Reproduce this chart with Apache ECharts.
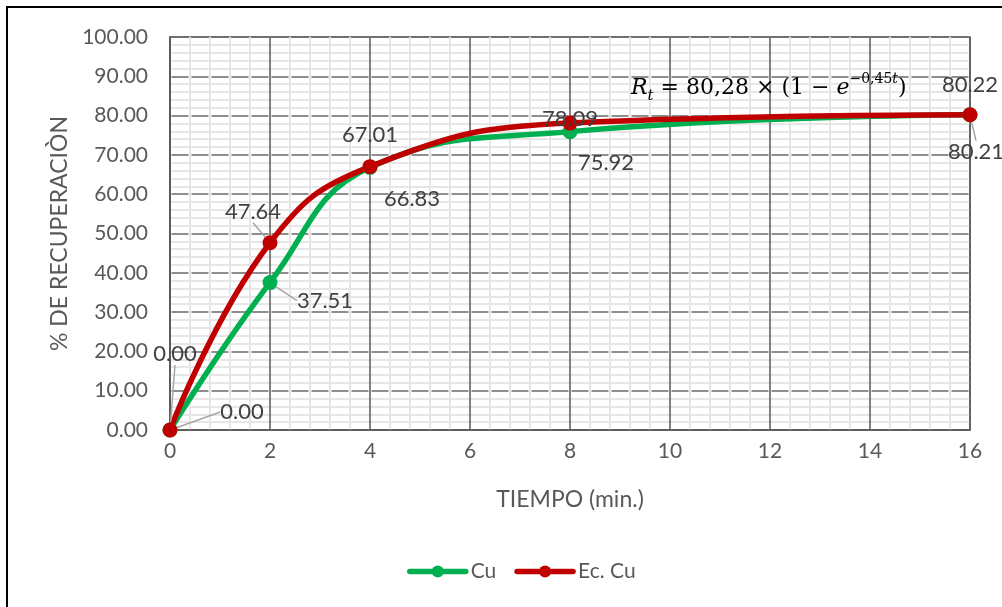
<!DOCTYPE html>
<html>
<head>
<meta charset="utf-8">
<script src="https://cdn.jsdelivr.net/npm/echarts@6/dist/echarts.min.js"></script>
<style>
  html, body { margin: 0; padding: 0; background: #fff; }
  #chart { width: 1002px; height: 607px; }
</style>
</head>
<body>
<div id="chart"></div>
<script>
// datos
var tiempo = [0, 2, 4, 8, 16];
var cu = [0.00, 37.51, 66.83, 75.92, 80.21];
var ecCu = [0.00, 47.64, 67.01, 78.09, 80.22];
var yTicks = [0, 10, 20, 30, 40, 50, 60, 70, 80, 90, 100];

// desplazamiento de etiquetas (dx, dy) respecto al punto
var offCu = [[72, -18], [55, 18], [42, 32], [36, 31], [6, 37]];
var offEc = [[5, -76], [-17, -31], [0, -32], [0, -4], [0, -30]];
var leaderCu = [true, true, false, false, true];
var leaderEc = [true, true, false, false, false];

var font = 'Lato, "Open Sans", sans-serif';
var txt = '#595959';

function pares(ys) {
    return tiempo.map(function (t, i) { return [t, ys[i]]; });
}

function serie(name, color, ys, off, leader) {
    return {
        name: name,
        type: 'line',
        smooth: 0.45,
        data: pares(ys).map(function (p, i) {
            return { value: p, labelLine: { show: leader[i] } };
        }),
        symbol: 'circle',
        symbolSize: 15,
        lineStyle: { color: color, width: 5.5 },
        itemStyle: { color: color },
        label: {
            show: true,
            position: 'inside',
            color: '#404040',
            fontFamily: font,
            fontSize: 22,
            formatter: function (p) { return p.value[1].toFixed(2); }
        },
        labelLine: { show: true, lineStyle: { color: '#a6a6a6', width: 1.5 } },
        labelLayout: function (params) {
            var o = off[params.dataIndex];
            return { dx: o[0], dy: o[1] };
        }
    };
}

var myChart = echarts.init(document.getElementById('chart'));
var option = {
    animation: false,
    backgroundColor: '#fff',
    grid: { left: 170, top: 37, right: 32, bottom: 177, show: true, borderColor: '#595959', borderWidth: 1.5 },
    xAxis: {
        type: 'value',
        min: 0, max: 16, interval: 2,
        name: 'TIEMPO (min.)',
        nameLocation: 'middle',
        nameGap: 58,
        nameTextStyle: { color: txt, fontFamily: font, fontSize: 23 },
        axisLine: { show: true, lineStyle: { color: '#595959', width: 1.5 } },
        axisTick: { show: false },
        axisLabel: { color: txt, fontFamily: font, fontSize: 21, margin: 11 },
        splitLine: { show: true, lineStyle: { color: '#595959', width: 1.5 } },
        minorTick: { show: false, splitNumber: 5 },
        minorSplitLine: { show: true, lineStyle: { color: '#e6e6e6', width: 2 } }
    },
    yAxis: {
        type: 'value',
        min: 0, max: 100, interval: 10,
        name: '% DE RECUPERACIÒN',
        nameLocation: 'middle',
        nameGap: 98,
        nameTextStyle: { color: txt, fontFamily: font, fontSize: 23 },
        axisLine: { show: true, lineStyle: { color: '#595959', width: 1.5 } },
        axisTick: { show: false },
        axisLabel: {
            color: txt, fontFamily: font, fontSize: 21, margin: 22,
            formatter: function (v) { return yTicks.indexOf(v) >= 0 ? v.toFixed(2) : ''; }
        },
        splitLine: { show: true, lineStyle: { color: '#6a6a6a', width: 1.5, type: [17, 3], dashOffset: 18.5 } },
        minorTick: { show: false, splitNumber: 5 },
        minorSplitLine: { show: true, lineStyle: { color: '#e6e6e6', width: 2 } }
    },
    legend: {
        bottom: 20,
        left: 402,
        itemWidth: 56,
        itemHeight: 15,
        itemGap: 18,
        lineStyle: { width: 5.5, cap: 'round' },
        textStyle: { color: txt, fontFamily: font, fontSize: 21 },
        data: ['Cu', 'Ec. Cu']
    },
    graphic: [
        {
            type: 'rect',
            silent: true,
            shape: { x: 7, y: 7, width: 1010, height: 620 },
            style: { fill: 'none', stroke: '#000', lineWidth: 2 }
        },
        {
            type: 'text',
            left: 631,
            top: 72,
            z: 100,
            style: {
                text: '{i|R}{sub|t}{n| = 80,28 × (1 − }{i|e}{sup|−0,45}{supi|t}{n|)}',
                fill: '#000',
                rich: {
                    n: { fontFamily: '"DejaVu Serif", serif', fontSize: 22, fill: '#000', lineHeight: 32 },
                    i: { fontFamily: '"DejaVu Serif", serif', fontStyle: 'italic', fontSize: 22, fill: '#000', lineHeight: 32 },
                    sub: { fontFamily: '"DejaVu Serif", serif', fontStyle: 'italic', fontSize: 15, fill: '#000', verticalAlign: 'bottom', padding: [12, 0, 0, 0] },
                    sup: { fontFamily: '"DejaVu Serif", serif', fontSize: 14, fill: '#000', verticalAlign: 'top', padding: [0, 0, 14, 0] },
                    supi: { fontFamily: '"DejaVu Serif", serif', fontStyle: 'italic', fontSize: 14, fill: '#000', verticalAlign: 'top', padding: [0, 0, 14, 0] }
                }
            }
        }
    ],
    series: [
        serie('Cu', '#00b050', cu, offCu, leaderCu),
        serie('Ec. Cu', '#c00000', ecCu, offEc, leaderEc)
    ]
};
myChart.setOption(option);
</script>
</body>
</html>
